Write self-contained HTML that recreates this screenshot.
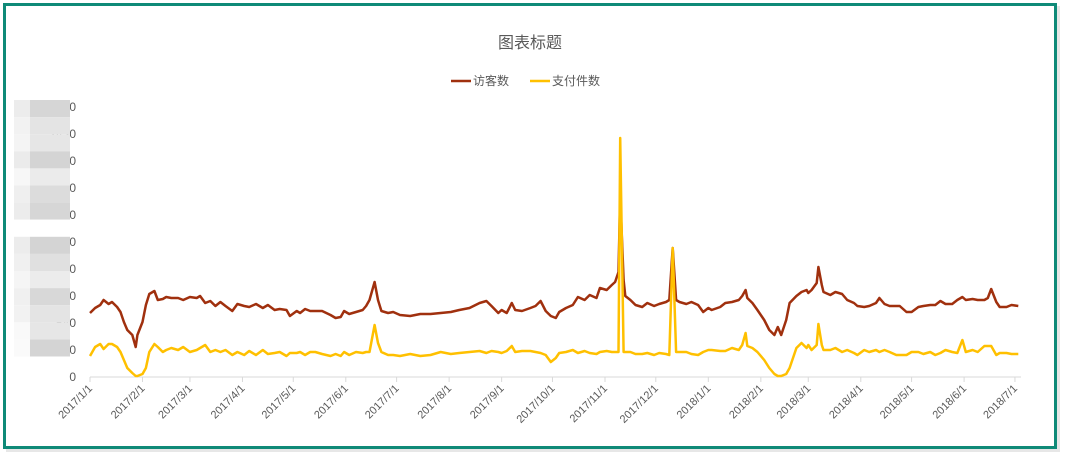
<!DOCTYPE html>
<html><head><meta charset="utf-8"><style>
html,body{margin:0;padding:0;background:#fff;}
svg{display:block;font-family:"Liberation Sans","Noto Sans CJK SC",sans-serif;}
</style></head><body>
<svg id="chart" width="1066" height="460" viewBox="0 0 1066 460">
<rect x="0" y="0" width="1066" height="460" fill="#fff"/>
<rect x="6" y="6" width="1054" height="446" fill="#bbb" opacity="0.35"/>
<rect x="4.5" y="4.5" width="1051" height="443" fill="#fff" stroke="#0f8a78" stroke-width="3"/>
<text x="530" y="48" text-anchor="middle" font-size="16" fill="#595959">图表标题</text>
<g>
<g><line x1="451" y1="81" x2="471" y2="81" stroke="#a0300e" stroke-width="2.5"/><text x="473" y="85" font-size="12" fill="#595959">访客数</text></g>
<g><line x1="530" y1="81" x2="550" y2="81" stroke="#ffc000" stroke-width="2.5"/><text x="552" y="85" font-size="12" fill="#595959">支付件数</text></g>
</g>
<g id="yaxis"></g>
<g id="blur"></g>
<g id="xaxis"></g>
<g id="series"></g>
</svg>
<script>
const days=[0,3,6,8,11,13,16,18,20,22,25,27,28,31,33,35,38,40,43,45,48,52,55,59,63,65,68,71,74,77,80,84,87,91,94,98,102,105,109,112,116,118,122,124,127,130,133,137,142,145,148,150,153,157,161,163,165,168,170,172,176,179,183,189,195,201,207,213,218,224,230,234,237,241,243,246,249,251,255,260,263,266,269,272,275,277,281,285,288,292,295,299,301,305,308,310,312,313,315,316,319,322,326,329,333,336,340,342,344,346,348,352,355,359,362,365,367,372,375,379,383,385,387,388,391,394,398,401,404,406,408,411,413,417,420,423,424,426,429,430,432,433,437,440,444,447,451,453,457,460,464,466,469,472,476,478,482,485,489,492,496,499,502,505,509,512,515,517,521,524,528,530,532,535,537,541,544,548];
const visitors=[640,690,720,770,730,750,700,650,550,470,420,300,420,550,720,830,860,770,780,800,790,790,770,800,790,810,740,760,710,750,710,660,730,710,700,730,690,720,670,680,670,610,660,640,680,660,660,660,620,590,600,660,630,650,670,710,770,950,770,660,640,650,620,610,630,630,640,650,670,690,740,760,710,640,670,640,740,670,660,690,710,760,660,610,590,650,690,720,800,770,820,790,890,870,920,950,1050,1820,970,810,770,720,700,740,710,730,750,770,1290,770,750,730,750,720,650,690,670,700,740,750,770,810,870,790,740,670,570,470,420,500,420,570,740,810,850,870,840,870,940,1100,920,850,820,850,830,770,740,710,700,710,740,790,730,710,710,710,650,650,700,710,720,720,760,730,730,770,800,770,780,770,770,790,880,750,700,700,720,710];
const orders=[210,300,330,280,330,330,300,250,170,90,40,10,10,30,90,250,330,300,250,270,290,270,300,250,270,290,320,250,270,250,270,220,250,220,260,220,270,230,240,250,210,240,240,250,220,250,250,230,210,230,210,250,220,250,240,250,250,520,340,250,220,220,210,230,210,220,250,230,240,250,260,240,260,250,240,260,310,250,260,260,250,240,220,150,190,240,250,270,240,260,240,230,250,260,250,250,250,2390,250,250,250,230,230,240,220,240,230,220,1290,250,250,250,230,220,250,270,270,260,260,290,270,320,440,310,290,250,170,90,30,10,10,30,90,290,340,290,320,270,320,530,320,270,270,290,250,270,240,220,270,250,270,250,270,250,220,220,220,250,250,230,250,220,240,270,250,240,370,250,270,250,310,310,310,220,240,240,230,230];
const yTicks=[0,270,540,810,1080,1350,1620,1890,2160,2430,2700];
const xTickLabels=["2017/1/1","2017/2/1","2017/3/1","2017/4/1","2017/5/1","2017/6/1","2017/7/1","2017/8/1","2017/9/1","2017/10/1","2017/11/1","2017/12/1","2018/1/1","2018/2/1","2018/3/1","2018/4/1","2018/5/1","2018/6/1","2018/7/1"];
const xTickDays=[0,31,59,90,120,151,181,212,243,273,304,334,365,396,424,455,485,516,546];

const NS="http://www.w3.org/2000/svg";
const X0=90,PXD=1.694,Y0=377,PXV=0.1;
const sx=d=>X0+d*PXD, sy=v=>Y0-v*PXV;
function mk(tag,attrs,parent){const e=document.createElementNS(NS,tag);for(const k in attrs)e.setAttribute(k,attrs[k]);parent.appendChild(e);return e;}

const ya=document.getElementById('yaxis');
yTicks.forEach(v=>{
  const t=mk('text',{x:76,y:sy(v)+4,'text-anchor':'end','font-size':12,fill:'#595959'},ya);
  
  
  t.textContent=String(v);
});
const bl=document.getElementById('blur');
const colA=["#ececec","#f2f2f2","#f4f4f4","#ebebeb","#f7f7f7","#efefef","#ececec","#fff","#ececec","#f0f0f0","#f5f5f5","#f0f0f0","#f2f2f2","#f9f9f9","#fafafa"];
const colB=["#d6d6d6","#e4e4e4","#e6e6e6","#d4d4d4","#ebebeb","#dcdcdc","#d6d6d6","#fff","#d4d4d4","#e0e0e0","#ececec","#d8d8d8","#e4e4e4","#e6e6e6","#d4d4d4"];
for(let r=0;r<15;r++){
  const y=100+r*17.1;
  const a=mk('rect',{x:14,y:y,width:16,height:17.1,fill:colA[r]},bl);
  
  
  const b=mk('rect',{x:30,y:y,width:40,height:17.1,fill:colB[r]},bl);
  
  
}
const xa=document.getElementById('xaxis');
const axl=mk('line',{x1:X0,y1:Y0,x2:1021,y2:Y0,stroke:'#d9d9d9','stroke-width':1},xa);


xTickDays.forEach((d,i)=>{
  const x=sx(d);
  const tk=mk('line',{x1:x,y1:Y0,x2:x,y2:Y0+5,stroke:'#d9d9d9'},xa);
  
  
  const t=mk('text',{x:x+3,y:Y0+12,'text-anchor':'end','font-size':11,fill:'#595959',transform:`rotate(-45 ${x+3} ${Y0+12})`},xa);
  
  
  t.textContent=xTickLabels[i];
});
const sg=document.getElementById('series');
function line(vals,color,name){
  const d=vals.map((v,i)=>(i?'L':'M')+sx(days[i]).toFixed(1)+','+sy(v).toFixed(1)).join('');
  const p=mk('path',{d:d,fill:'none',stroke:color,'stroke-width':2.5,'stroke-linejoin':'round'},sg);
  
  
}
line(visitors,'#a0300e','visitors-line');
line(orders,'#ffc000','orders-line');
</script>
</body></html>
